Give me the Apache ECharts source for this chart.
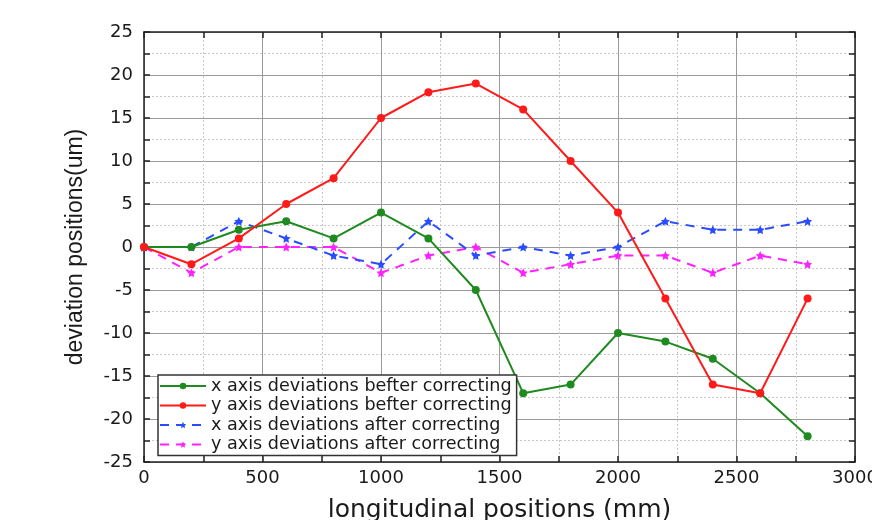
<!DOCTYPE html>
<html><head><meta charset="utf-8">
<script src="https://cdn.jsdelivr.net/npm/echarts@6/dist/echarts.min.js"></script>
<style>html,body{margin:0;padding:0;background:#fff}#c{width:872px;height:520px}</style>
</head><body><div id="c"></div>
<script>
var positions = [0,200,400,600,800,1000,1200,1400,1600,1800,2000,2200,2400,2600,2800];
var xBefore = [0,0,2,3,1,4,1,-5,-17,-16,-10,-11,-13,-17,-22];
var yBefore = [0,-2,1,5,8,15,18,19,16,10,4,-6,-16,-17,-6];
var xAfter = [0,0,3,1,-1,-2,3,-1,0,-1,0,3,2,2,3];
var yAfter = [0,-3,0,0,0,-3,-1,0,-3,-2,-1,-1,-3,-1,-2];
var seriesNames = ['x axis deviations befter correcting','y axis deviations befter correcting','x axis deviations after correcting','y axis deviations after correcting'];
var xTicks = [0,500,1000,1500,2000,2500,3000];
var yTicks = [-25,-20,-15,-10,-5,0,5,10,15,20,25];

function pairs(v){ return positions.map(function(p,i){return [p,v[i]];}); }
var FONT = '"DejaVu Sans", sans-serif';
var FONT2 = '"Liberation Sans", Arial, sans-serif';
var axisCommon = {
  axisLine:{show:true,onZero:false,lineStyle:{color:'#222',width:1.5}},
  axisTick:{show:true,inside:true,length:6,lineStyle:{color:'#222',width:1.5}},
  minorTick:{show:true,splitNumber:2,length:6,lineStyle:{color:'#222',width:1.5}},
  splitLine:{show:true,lineStyle:{color:'#9a9a9a',width:1}},
  minorSplitLine:{show:true,lineStyle:{color:'#c8c8c8',type:[2,2],width:1}}
};
function mk(extra){ return Object.assign({}, JSON.parse(JSON.stringify(axisCommon)), extra); }
function plain(v){ return String(v); }

var chart = echarts.init(document.getElementById('c'));
chart.setOption({
  animation:false,
  backgroundColor:'#fff',
  grid:{left:144,right:17,top:32,bottom:58,outerBoundsMode:'none',containLabel:false},
  xAxis:[
    mk({type:'value',min:0,max:3000,interval:500,position:'bottom',
      axisLabel:{color:'#1a1a1a',fontSize:18,fontFamily:FONT,margin:7,formatter:plain},
      name:'longitudinal positions (mm)',nameLocation:'middle',nameGap:36,
      nameTextStyle:{fontSize:25,color:'#1a1a1a',fontFamily:FONT}}),
    mk({type:'value',min:0,max:3000,interval:500,position:'top',axisLabel:{show:false},
      splitLine:{show:false},minorSplitLine:{show:false}})
  ],
  yAxis:[
    mk({type:'value',min:-25,max:25,interval:5,position:'left',
      axisLabel:{color:'#1a1a1a',fontSize:18,fontFamily:FONT,margin:11,formatter:plain},
      name:'deviation positions(um)',nameLocation:'middle',nameGap:57,
      nameTextStyle:{fontSize:23,color:'#1a1a1a',fontFamily:FONT2}}),
    mk({type:'value',min:-25,max:25,interval:5,position:'right',axisLabel:{show:false},
      splitLine:{show:false},minorSplitLine:{show:false}})
  ],
  legend:{
    orient:'vertical',left:158,top:375,
    itemWidth:46,itemHeight:8,itemGap:1.5,
    padding:[2,5,2,1],
    backgroundColor:'#fff',borderColor:'#333',borderWidth:1.5,
    textStyle:{fontSize:17.6,lineHeight:17.5,color:'#1a1a1a',fontFamily:FONT},
    data:seriesNames
  },
  series:[
    {name:seriesNames[0],type:'line',data:pairs(xBefore),symbol:'circle',symbolSize:8,
     itemStyle:{color:'#1f8a1f'},lineStyle:{color:'#1f8a1f',width:2},z:3},
    {name:seriesNames[1],type:'line',data:pairs(yBefore),symbol:'circle',symbolSize:8,
     itemStyle:{color:'#ff1a1a'},lineStyle:{color:'#ff1a1a',width:2},z:4},
    {name:seriesNames[2],type:'line',data:pairs(xAfter),symbol:'path://M0,-10L2.9,-4L9.5,-3.1L4.7,1.5L5.9,8.1L0,5L-5.9,8.1L-4.7,1.5L-9.5,-3.1L-2.9,-4Z',symbolSize:9,
     itemStyle:{color:'#2a4cff'},lineStyle:{color:'#2a4cff',width:2,type:[9,7]},z:2},
    {name:seriesNames[3],type:'line',data:pairs(yAfter),symbol:'path://M0,-10L2.9,-4L9.5,-3.1L4.7,1.5L5.9,8.1L0,5L-5.9,8.1L-4.7,1.5L-9.5,-3.1L-2.9,-4Z',symbolSize:9,
     itemStyle:{color:'#ff22ff'},lineStyle:{color:'#ff22ff',width:2,type:[9,7]},z:1}
  ]
});
</script></body></html>
